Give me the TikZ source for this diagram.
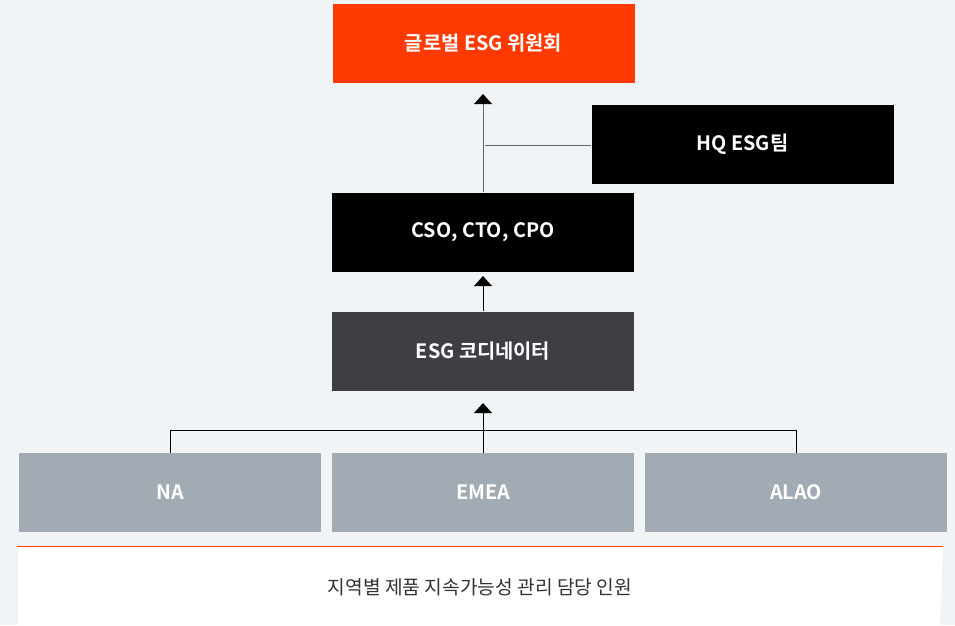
\documentclass[tikz,border=0pt]{standalone}
\usepackage{fontspec}
\setmainfont{Noto Sans CJK KR}
\newfontfamily\krbold{Noto Sans CJK KR Bold}
\usetikzlibrary{arrows.meta}
\definecolor{bgc}{HTML}{F1F4F7}
\definecolor{orng}{HTML}{FF3A00}
\definecolor{darkbox}{HTML}{3F3E44}
\definecolor{graybox}{HTML}{A2AAB3}
\definecolor{linegray}{HTML}{666666}
\definecolor{captxt}{HTML}{333333}
\tikzset{
  box/.style={minimum width=302pt, minimum height=79pt, inner sep=0pt, text=white, font=\krbold\fontsize{19.8pt}{23pt}\selectfont},
  conn/.style={line width=1pt, draw=linegray},
  arr/.style={conn, -{Triangle[width=18pt,length=10pt,color=black,fill=black,line width=0pt]}},
}
\begin{document}
\begin{tikzpicture}[x=1pt,y=-1pt]
\fill[bgc] (0,0) rectangle (955,625);
\useasboundingbox (0,0) rectangle (955,625);
\node[box, fill=orng] (glob) at (483.5,43.5) {글로벌 ESG 위원회};
\node[box, fill=black] (hq) at (742.5,144) {HQ ESG팀};
\node[box, fill=black] (cso) at (483,232) {CSO, CTO, CPO};
\node[box, fill=darkbox] (coord) at (483,351) {ESG 코디네이터};
\node[box, fill=graybox] (na) at (170,492.5) {NA};
\node[box, fill=graybox] (emea) at (483,492.5) {EMEA};
\node[box, fill=graybox] (alao) at (796,492.5) {ALAO};
% top connector
\coordinate (t1) at (483,94);
\draw[arr] (cso.north) -- (t1);
\coordinate (j1) at (485,145);
\draw[conn] (hq.west |- j1) -- (j1);
% cso - coord
\coordinate (t2) at (483,276);
\draw[arr, draw=black] (coord.north) -- (t2);
% regional branch
\coordinate (t3) at (483,403);
\coordinate (hb) at (483,430);
\draw[arr, draw=black] (emea.north) -- (t3);
\draw[black, line width=1pt] (na.north) -- (na.north |- hb) -- (alao.north |- hb) -- (alao.north);
% caption area
\fill[white] (18,547) -- (943,547) -- (940,625) -- (18,625) -- cycle;
\coordinate (ol) at (17,546.5);
\coordinate (or) at (943,546.5);
\draw[orng, line width=1.5pt] (ol) -- (or);
\node[text=captxt, font=\fontsize{19.2pt}{22pt}\selectfont] (cap) at (480,587) {지역별 제품 지속가능성 관리 담당 인원};
\end{tikzpicture}
\end{document}
